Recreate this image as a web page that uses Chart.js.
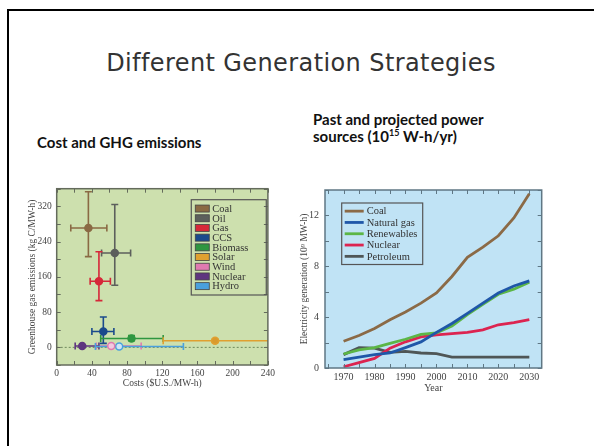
<!DOCTYPE html>
<html lang="en">
<head>
<meta charset="UTF-8" />
<title>Different Generation Strategies</title>
<script src="https://cdn.jsdelivr.net/npm/chart.js"></script>
<style>
  body {
    margin: 0;
    width: 594px;
    height: 446px;
    background: #fff;
    position: relative;
    overflow: hidden;
    font-family: 'Lato', sans-serif;
  }
  .frame-top { position: absolute; left: 7px; top: 9px; right: 0; height: 2px; background: #000; }
  .frame-left { position: absolute; left: 7px; top: 9px; bottom: 0; width: 2px; background: #000; }
  .slide-title {
    position: absolute;
    left: 4px;
    width: 594px;
    top: 49px;
    text-align: center;
    font-family: 'DejaVu Sans', sans-serif;
    font-size: 24px;
    letter-spacing: 0.4px;
    color: #333;
  }
  .sub {
    position: absolute;
    font-weight: bold;
    font-size: 15px;
    line-height: 17px;
    color: #111;
  }
  .sub sup { font-size: 9px; line-height: 0; }
  canvas { position: absolute; }
</style>
</head>
<body>
  <div class="frame-top"></div>
  <div class="frame-left"></div>
  <div class="slide-title">Different Generation Strategies</div>
  <div class="sub" style="left:37px; top:134px;">Cost and GHG emissions</div>
  <div class="sub" style="left:313px; top:111px;">Past and projected power<br>sources (10<sup>15</sup> W-h/yr)</div>

  <canvas id="costChart" width="256" height="215" style="left:22px; top:178px;"></canvas>
  <canvas id="genChart" width="257" height="220" style="left:295px; top:178px;"></canvas>

<script>
  // ---- left chart: cost vs greenhouse gas emissions ----
  const sources  = ['Coal', 'Oil', 'Gas', 'CCS', 'Biomass', 'Solar', 'Wind', 'Nuclear', 'Hydro'];
  const cost     = [36, 66, 48, 53, 85, 180, 62, 29, 71];
  const costLow  = [16, 51, 38, 40, 50, 121, 45, 21, 44];
  const costHigh = [57, 84, 61, 65, 121, 240, 96, 48, 144];
  const ghg      = [271, 214, 150, 36, 20, 15, 3, 3, 2];
  const ghgLow   = [206, 141, 106, 9, 15, 11, 3, 3, 2];
  const ghgHigh  = [353, 324, 217, 69, 27, 19, 3, 3, 2];
  const costTicks = [0, 40, 80, 120, 160, 200, 240];
  const ghgTicks  = [0, 80, 160, 240, 320];

  const srcColors = ['#8a6a44', '#5c5f5c', '#d62839', '#1b4a8c', '#2f9640', '#e0a030', '#e07ab0', '#5e357f', '#4aa0dc'];
  const srcFill   = ['#8a6a44', '#5c5f5c', '#d62839', '#1b4a8c', '#2f9640', '#d99a2e', '#f3c9de', '#5e357f', '#cfe6f5'];

  // ---- right chart: past and projected generation ----
  const years     = [1970, 1975, 1980, 1985, 1990, 1995, 2000, 2005, 2010, 2015, 2020, 2025, 2030];
  const coal      = [2.1, 2.55, 3.1, 3.8, 4.4, 5.1, 5.9, 7.2, 8.7, 9.5, 10.4, 11.8, 13.7];
  const natGas    = [0.65, 0.85, 1.05, 1.18, 1.6, 2.05, 2.8, 3.5, 4.3, 5.1, 5.9, 6.45, 6.85];
  const renewable = [1.1, 1.43, 1.6, 1.94, 2.26, 2.64, 2.77, 3.3, 4.2, 5.0, 5.8, 6.2, 6.75];
  const nuclear   = [0.1, 0.43, 0.75, 1.56, 2.06, 2.44, 2.6, 2.7, 2.8, 3.0, 3.4, 3.57, 3.8];
  const petroleum = [1.05, 1.6, 1.56, 1.23, 1.3, 1.18, 1.13, 0.86, 0.86, 0.86, 0.86, 0.86, 0.86];
  const yearTicks = [1970, 1980, 1990, 2000, 2010, 2020, 2030];
  const genTicks  = [0, 4, 8, 12];

  const serif = 'Liberation Serif';

  // background, frame, inward ticks and a boxed legend drawn inside the plot
  const plotDecor = {
    id: 'plotDecor',
    beforeDraw(chart, args, o) {
      const { ctx, chartArea: a } = chart;
      ctx.save();
      ctx.fillStyle = o.bg;
      ctx.fillRect(a.left, a.top, a.right - a.left, a.bottom - a.top);
      ctx.restore();
    },
    afterDraw(chart, args, o) {
      const { ctx, chartArea: a, scales: { x, y } } = chart;
      ctx.save();
      ctx.strokeStyle = o.frame;
      ctx.lineWidth = 1;
      ctx.beginPath();
      for (let v = Math.ceil(x.min / o.xStep) * o.xStep; v <= x.max; v += o.xStep) {
        const px = Math.round(x.getPixelForValue(v)) + 0.5;
        ctx.moveTo(px, a.bottom); ctx.lineTo(px, a.bottom - o.tick);
        ctx.moveTo(px, a.top); ctx.lineTo(px, a.top + o.tick);
      }
      for (let v = Math.ceil(y.min / o.yStep) * o.yStep; v <= y.max; v += o.yStep) {
        const py = Math.round(y.getPixelForValue(v)) + 0.5;
        ctx.moveTo(a.left, py); ctx.lineTo(a.left + o.tick, py);
        ctx.moveTo(a.right, py); ctx.lineTo(a.right - o.tick, py);
      }
      ctx.stroke();
      ctx.lineWidth = 1.5;
      ctx.strokeRect(a.left, a.top, a.right - a.left, a.bottom - a.top);

      // legend
      const L = o.legend;
      const bx = L.fromRight != null ? a.right - L.fromRight - L.width : a.left + L.fromLeft;
      const by = a.top + L.top;
      const n = chart.data.datasets.length;
      const bh = L.pad * 2 + L.row * n;
      if (L.fill) { ctx.fillStyle = L.fill; ctx.fillRect(bx, by, L.width, bh); }
      ctx.strokeStyle = '#555';
      ctx.lineWidth = 1.2;
      ctx.strokeRect(bx, by, L.width, bh);
      ctx.font = L.size + 'px "' + serif + '"';
      ctx.textBaseline = 'middle';
      chart.data.datasets.forEach((ds, i) => {
        const cy = by + L.pad + L.row * (i + 0.5);
        if (L.kind === 'box') {
          ctx.fillStyle = ds.borderColor;
          ctx.fillRect(bx + 4, cy - 3.5, 14, 7);
          ctx.strokeStyle = '#444';
          ctx.lineWidth = 0.8;
          ctx.strokeRect(bx + 4, cy - 3.5, 14, 7);
        } else {
          ctx.strokeStyle = ds.borderColor;
          ctx.lineWidth = 2.8;
          ctx.beginPath();
          ctx.moveTo(bx + 3, cy); ctx.lineTo(bx + 22, cy);
          ctx.stroke();
        }
        ctx.fillStyle = '#333';
        ctx.fillText(ds.label, bx + L.textX, cy + 0.5);
      });
      ctx.restore();
    }
  };

  // error bars and the dotted zero line of the cost chart
  const errorBars = {
    id: 'errorBars',
    beforeDatasetsDraw(chart) {
      const { ctx, chartArea: a, scales: { x, y } } = chart;
      ctx.save();
      const y0 = y.getPixelForValue(0);
      ctx.strokeStyle = '#6f8a5c';
      ctx.setLineDash([2, 2]);
      ctx.lineWidth = 1;
      ctx.beginPath();
      ctx.moveTo(a.left, y0); ctx.lineTo(a.right, y0);
      ctx.stroke();
      ctx.setLineDash([]);
      ctx.lineWidth = 1.6;
      const cap = 3.5;
      sources.forEach((s, i) => {
        ctx.strokeStyle = srcColors[i];
        const px = x.getPixelForValue(cost[i]);
        const py = y.getPixelForValue(ghg[i]);
        const x1 = x.getPixelForValue(costLow[i]);
        const x2 = x.getPixelForValue(costHigh[i]);
        const y1 = y.getPixelForValue(ghgLow[i]);
        const y2 = y.getPixelForValue(ghgHigh[i]);
        ctx.beginPath();
        ctx.moveTo(x1, py); ctx.lineTo(x2, py);
        ctx.moveTo(x1, py - cap); ctx.lineTo(x1, py + cap);
        if (costHigh[i] < x.max) { ctx.moveTo(x2, py - cap); ctx.lineTo(x2, py + cap); }
        if (ghgHigh[i] - ghgLow[i] > 0) {
          ctx.moveTo(px, y1); ctx.lineTo(px, y2);
          ctx.moveTo(px - cap, y1); ctx.lineTo(px + cap, y1);
          ctx.moveTo(px - cap, y2); ctx.lineTo(px + cap, y2);
        }
        ctx.stroke();
      });
      ctx.restore();
    }
  };

  const tickFont = size => ({ family: serif, size: size });

  new Chart(document.getElementById('costChart'), {
    type: 'scatter',
    data: {
      datasets: sources.map((name, i) => ({
        label: name,
        data: [{ x: cost[i], y: ghg[i] }],
        borderColor: srcColors[i],
        backgroundColor: srcFill[i],
        pointRadius: 3.5,
        borderWidth: 1.5
      }))
    },
    options: {
      responsive: false,
      animation: false,
      layout: { padding: { top: 5, right: 9.7, left: 0, bottom: 0 } },
      plugins: {
        legend: { display: false },
        tooltip: { enabled: false },
        plotDecor: {
          bg: '#cde0ae', frame: '#646b5c', xStep: 20, yStep: 40, tick: 4,
          legend: { kind: 'box', fromRight: 1.6, top: 11, width: 75, row: 9.7, pad: 4, size: 10.5, textX: 21 }
        }
      },
      scales: {
        x: {
          type: 'linear', min: 0, max: 240,
          afterBuildTicks: s => { s.ticks = costTicks.map(v => ({ value: v })); },
          afterFit: s => { s.height = 28; },
          grid: { display: false, drawTicks: false },
          border: { display: false },
          ticks: { font: tickFont(9.5), color: '#444', padding: 3, maxRotation: 0, autoSkip: false },
          title: { display: true, text: 'Costs ($U.S./MW-h)', font: tickFont(9.5), color: '#444', padding: { top: 0, bottom: 4 } }
        },
        y: {
          type: 'linear', min: -40, max: 360,
          afterBuildTicks: s => { s.ticks = ghgTicks.map(v => ({ value: v })); },
          afterFit: s => { s.width = 34.7; },
          grid: { display: false, drawTicks: false },
          border: { display: false },
          ticks: { font: tickFont(9.5), color: '#444', padding: 5, autoSkip: false },
          title: { display: true, text: 'Greenhouse gas emissions (kg C/MW-h)', font: tickFont(9.5), color: '#444', padding: { top: 5, bottom: 0 } }
        }
      }
    },
    plugins: [plotDecor, errorBars]
  });

  const genSeries = [
    { label: 'Coal', data: coal, color: '#8b6a46' },
    { label: 'Natural gas', data: natGas, color: '#1f57a8' },
    { label: 'Renewables', data: renewable, color: '#5cb646' },
    { label: 'Nuclear', data: nuclear, color: '#dc2450' },
    { label: 'Petroleum', data: petroleum, color: '#4f5656' }
  ];

  new Chart(document.getElementById('genChart'), {
    type: 'line',
    data: {
      datasets: genSeries.map(s => ({
        label: s.label,
        data: years.map((yr, i) => ({ x: yr, y: s.data[i] })),
        borderColor: s.color,
        backgroundColor: s.color,
        borderWidth: 2.8,
        pointRadius: 0,
        tension: 0
      }))
    },
    options: {
      responsive: false,
      animation: false,
      layout: { padding: { top: 5, right: 10.3, left: 0, bottom: 0 } },
      plugins: {
        legend: { display: false },
        tooltip: { enabled: false },
        plotDecor: {
          bg: '#c0e3f5', frame: '#5f7784', xStep: 5, yStep: 2, tick: 4,
          legend: { kind: 'line', fromLeft: 16.7, top: 13, width: 81, row: 11.3, pad: 2.5, size: 10.5, textX: 25 }
        }
      },
      scales: {
        x: {
          type: 'linear', min: 1964, max: 2034,
          afterBuildTicks: s => { s.ticks = yearTicks.map(v => ({ value: v })); },
          afterFit: s => { s.height = 30; },
          grid: { display: false, drawTicks: false },
          border: { display: false },
          ticks: { font: tickFont(10), color: '#444', padding: 3, maxRotation: 0, autoSkip: false, callback: v => String(v) },
          title: { display: true, text: 'Year', font: tickFont(10), color: '#444', padding: { top: 0, bottom: 4 } }
        },
        y: {
          type: 'linear', min: 0, max: 14,
          afterBuildTicks: s => { s.ticks = genTicks.map(v => ({ value: v })); },
          afterFit: s => { s.width = 30; },
          grid: { display: false, drawTicks: false },
          border: { display: false },
          ticks: { font: tickFont(10), color: '#444', padding: 6, autoSkip: false },
          title: { display: true, text: 'Electricity generation (10\u2079 MW-h)', font: tickFont(9.5), color: '#444', padding: { top: 4, bottom: 0 } }
        }
      }
    },
    plugins: [plotDecor]
  });
</script>
</body>
</html>
